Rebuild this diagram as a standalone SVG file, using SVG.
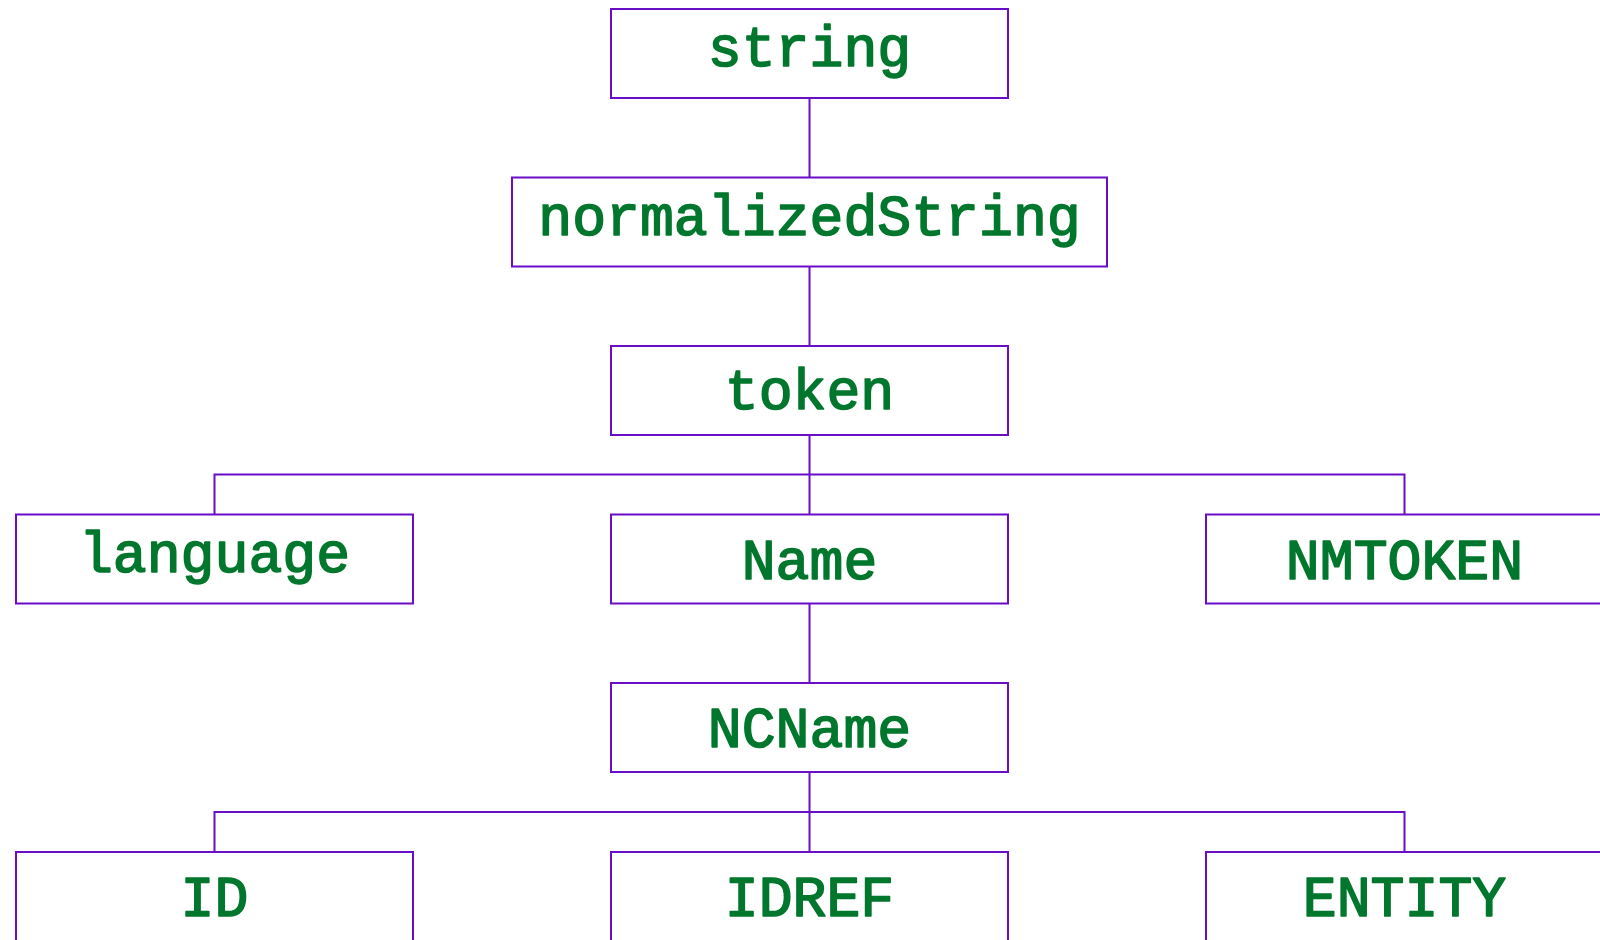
<svg xmlns="http://www.w3.org/2000/svg" width="1600" height="940" viewBox="0 0 1600 940">
<style>
.box{fill:#ffffff;stroke:#6a0dc7;stroke-width:2}
.lbl{font-family:"Liberation Mono","Courier New",monospace;font-size:56.5px;font-weight:normal;fill:#00772d;stroke:#00772d;stroke-width:1.6;stroke-linejoin:round;text-anchor:middle}
.edge{fill:none;stroke:#6a0dc7;stroke-width:2}
</style>
<rect width="1600" height="940" fill="#ffffff"/>
<g id="connectors">
<path class="edge" d="M809.5,98 V177.5"/>
<path class="edge" d="M809.5,267 V346"/>
<path class="edge" d="M809.5,435 V514.5"/>
<path class="edge" d="M214.5,514.5 V474.5 H1404.5 V514.5"/>
<path class="edge" d="M809.5,603.5 V683"/>
<path class="edge" d="M809.5,772 V852"/>
<path class="edge" d="M214.5,852 V812 H1404.5 V852"/>
</g>
<g id="node-string"><rect class="box" x="611" y="9" width="397" height="89"/><text class="lbl" x="809.5" y="66">string</text></g>
<g id="node-normalizedString"><rect class="box" x="512" y="177.5" width="595" height="89"/><text class="lbl" x="809.5" y="235">normalizedString</text></g>
<g id="node-token"><rect class="box" x="611" y="346" width="397" height="89"/><text class="lbl" x="809.5" y="409">token</text></g>
<g id="node-language"><rect class="box" x="16" y="514.5" width="397" height="89"/><text class="lbl" x="214.5" y="571.5">language</text></g>
<g id="node-Name"><rect class="box" x="611" y="514.5" width="397" height="89"/><text class="lbl" x="809.5" y="579">Name</text></g>
<g id="node-NMTOKEN"><rect class="box" x="1206" y="514.5" width="397" height="89"/><text class="lbl" x="1404.5" y="579">NMTOKEN</text></g>
<g id="node-NCName"><rect class="box" x="611" y="683" width="397" height="89"/><text class="lbl" x="809.5" y="747">NCName</text></g>
<g id="node-ID"><rect class="box" x="16" y="852" width="397" height="89"/><text class="lbl" x="214.5" y="916">ID</text></g>
<g id="node-IDREF"><rect class="box" x="611" y="852" width="397" height="89"/><text class="lbl" x="809.5" y="916">IDREF</text></g>
<g id="node-ENTITY"><rect class="box" x="1206" y="852" width="397" height="89"/><text class="lbl" x="1404.5" y="916">ENTITY</text></g>
</svg>
